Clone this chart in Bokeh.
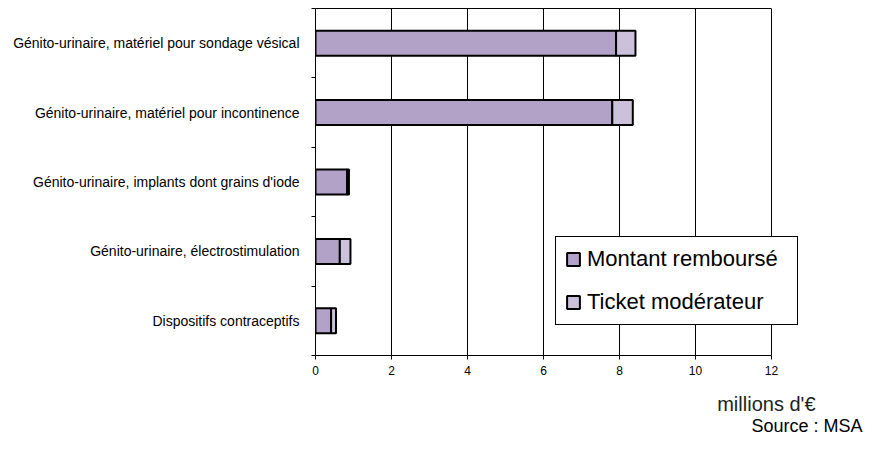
from bokeh.plotting import figure
from bokeh.layouts import column
from bokeh.models import Range1d, FixedTicker, Legend, LegendItem, Label, ColumnDataSource, LinearAxis
from bokeh.embed import file_html
from bokeh.resources import INLINE

categories = [
    "Génito-urinaire, matériel pour sondage vésical",
    "Génito-urinaire, matériel pour incontinence",
    "Génito-urinaire, implants dont grains d'iode",
    "Génito-urinaire, électrostimulation",
    "Dispositifs contraceptifs",
]
montant = [7.91, 7.81, 0.83, 0.64, 0.41]
ticket = [0.51, 0.54, 0.05, 0.28, 0.13]
series = ["Montant remboursé", "Ticket modérateur"]
x_ticks = [0, 2, 4, 6, 8, 10, 12]
colors = ["#B3A2C7", "#CCC1DA"]

FONT = "Liberation Sans"
W = 868
LEFT = 315          # frame left
AXIS_RIGHT = 771    # pixel position of the last tick (12)
n = len(categories)
ypos = [n - i - 0.5 for i in range(n)]
source = ColumnDataSource(dict(y=ypos, montant=montant, ticket=ticket))

x_end = x_ticks[-1] * (W - LEFT) / (AXIS_RIGHT - LEFT)

p = figure(width=W, height=382, x_range=Range1d(0, x_end), y_range=Range1d(0, n),
           output_backend="svg", toolbar_location=None, title=None,
           min_border_left=LEFT, min_border_right=0, min_border_top=8, min_border_bottom=27)
p.background_fill_color = "white"
p.border_fill_color = "white"
p.outline_line_color = None

renderers = p.hbar_stack(["montant", "ticket"], y="y", height=0.36, fill_color=colors,
                         line_color="black", line_width=2, source=source)

# x axis
p.xaxis.ticker = FixedTicker(ticks=x_ticks)
p.xaxis.bounds = (x_ticks[0], x_ticks[-1])
p.xaxis.minor_tick_line_color = None
p.xaxis.major_tick_in = 0
p.xaxis.major_tick_out = 4
p.xaxis.major_tick_line_color = "black"
p.xaxis.axis_line_color = "black"
p.xaxis.major_label_text_font = FONT
p.xaxis.major_label_text_font_size = "12px"
p.xaxis.major_label_text_color = "black"
p.xaxis.major_label_standoff = 6
p.xgrid.grid_line_color = "black"
p.xgrid.grid_line_alpha = 1
p.xgrid.grid_line_width = 1
p.ygrid.grid_line_color = None

# top border line of the plot area (0..12)
top = LinearAxis(ticker=FixedTicker(ticks=[]), bounds=(x_ticks[0], x_ticks[-1]),
                 axis_line_color="black", major_tick_line_color=None,
                 minor_tick_line_color=None, major_label_text_font_size="0px")
p.add_layout(top, "above")

# y axis
p.yaxis.ticker = FixedTicker(ticks=ypos, minor_ticks=list(range(n + 1)))
p.yaxis.major_label_overrides = {ypos[i]: categories[i] for i in range(n)}
p.yaxis.major_tick_line_color = None
p.yaxis.major_tick_in = 0
p.yaxis.major_tick_out = 0
p.yaxis.minor_tick_in = 0
p.yaxis.minor_tick_out = 4
p.yaxis.minor_tick_line_color = "black"
p.yaxis.axis_line_color = "black"
p.yaxis.major_label_text_font = FONT
p.yaxis.major_label_text_font_size = "14px"
p.yaxis.major_label_text_color = "black"
p.yaxis.major_label_standoff = 12

legend = Legend(items=[LegendItem(label=series[i], renderers=[renderers[i]]) for i in range(2)],
                location=(240, 30), margin=0, padding=9, spacing=17,
                glyph_width=16, glyph_height=16, label_standoff=6,
                label_height=24, label_width=201,
                label_text_font=FONT, label_text_font_size="22px", label_text_color="black",
                border_line_color="black", border_line_width=1, border_line_alpha=1,
                background_fill_color="white", background_fill_alpha=1)
p.add_layout(legend)

# footer with unit and source; its frame is aligned with the main frame (x = page pixels)
FH = 54
f = figure(width=W, height=FH, x_range=Range1d(LEFT, W), y_range=Range1d(0, FH),
           output_backend="svg", toolbar_location=None, title=None, min_border=0)
f.axis.visible = False
f.grid.grid_line_color = None
f.outline_line_color = None
f.background_fill_color = "white"
f.border_fill_color = "white"
f.add_layout(Label(x=815, y=33, text="millions d'€", text_font=FONT, text_font_size="20px",
                   text_color="#222222", text_align="right", text_baseline="alphabetic"))
f.add_layout(Label(x=862, y=11, text="Source : MSA", text_font=FONT, text_font_size="18px",
                   text_color="black", text_align="right", text_baseline="alphabetic"))

layout = column(p, f, spacing=0)
open("out.html", "w").write(file_html(layout, INLINE))
